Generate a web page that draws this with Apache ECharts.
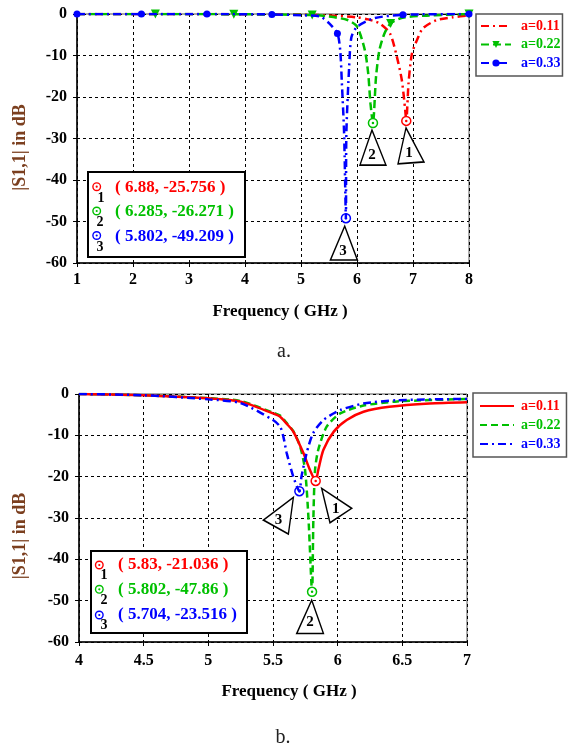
<!DOCTYPE html>
<html><head><meta charset="utf-8">
<script src="https://cdn.jsdelivr.net/npm/echarts@6/dist/echarts.min.js"></script>
<style>
html,body{margin:0;padding:0;background:#fff;}
#ca{position:absolute;left:0;top:0;width:568px;height:372px}
#cb{position:absolute;left:0;top:372px;width:568px;height:373px}
</style>
</head><body><div id="ca"></div><div id="cb"></div>
<script>
// ---------------- DATA ----------------
const seriesNames = ['a=0.11', 'a=0.22', 'a=0.33'];
const colors = ['#ff0000', '#00c000', '#0000ff'];

// Chart a
const xTicksA = [1, 2, 3, 4, 5, 6, 7, 8];
const yTicks = [-60, -50, -40, -30, -20, -10, 0];

const redA_f  = [1, 2, 3, 4, 5, 5.5, 6.0, 6.2, 6.41, 6.59, 6.71, 6.8, 6.86, 6.88, 6.92, 6.98, 7.07, 7.18, 7.42, 7.71, 8];
const redA_db = [0, 0, 0, -0.05, -0.15, -0.35, -0.8, -1.3, -2.3, -4.7, -10.2, -15.9, -23, -25.756, -16.7, -9.6, -6.3, -3.4, -1.5, -0.8, -0.3];

const greenA_f  = [1, 2.4, 3.8, 5.2, 5.5, 5.83, 6.0, 6.14, 6.2, 6.24, 6.285, 6.34, 6.4, 6.49, 6.6, 6.81, 7.2, 7.6, 8];
const greenA_db = [0, 0, -0.05, -0.25, -0.6, -1.45, -3.0, -8.7, -14.3, -21.5, -26.271, -15.1, -8.7, -4.7, -2.3, -0.9, -0.4, -0.2, 0];
const greenA_markers = [2.4, 3.8, 5.2, 6.6, 8];

const blueA_f  = [1, 2.15, 3.32, 4.48, 5.0, 5.34, 5.5, 5.65, 5.70, 5.73, 5.77, 5.802, 5.81, 5.86, 5.9, 6.0, 6.31, 6.82, 8];
const blueA_db = [0, 0, 0, -0.1, -0.3, -0.6, -2.2, -4.7, -8.7, -16.7, -28.8, -49.209, -28.8, -12.7, -5.6, -3.1, -1.0, -0.2, 0];
const blueA_markers = [1, 2.15, 3.32, 4.48, 5.65, 6.82, 8];

const dipA_f  = [6.88, 6.285, 5.802];
const dipA_db = [-25.756, -26.271, -49.209];

// Chart b
const xTicksB = [4, 4.5, 5, 5.5, 6, 6.5, 7];

const redB_f  = [4, 4.5, 5, 5.25, 5.5, 5.555, 5.6, 5.657, 5.735, 5.786, 5.83, 5.85, 5.89, 5.97, 6.07, 6.2, 6.4, 6.71, 7];
const redB_db = [0, -0.3, -1.05, -1.85, -4.7, -5.5, -7.0, -9.1, -14.3, -18.4, -21.036, -18.4, -13.5, -9.1, -6.3, -4.3, -3.1, -2.3, -2.0];

const greenB_f  = [4, 4.5, 5, 5.25, 5.5, 5.555, 5.6, 5.657, 5.71, 5.748, 5.775, 5.802, 5.812, 5.825, 5.85, 5.915, 6.02, 6.2, 6.46, 7];
const greenB_db = [0, -0.3, -1.0, -1.7, -4.5, -5.2, -6.8, -9.0, -12.7, -18.4, -30.5, -47.86, -30.5, -18.4, -13.5, -7.9, -4.7, -2.8, -1.8, -1.2];

const blueB_f  = [4, 4.5, 5, 5.25, 5.5, 5.555, 5.58, 5.606, 5.657, 5.704, 5.72, 5.76, 5.81, 5.89, 6.02, 6.2, 6.46, 7];
const blueB_db = [0, -0.3, -1.3, -2.2, -6.3, -7.9, -10.3, -14.3, -20, -23.516, -20, -14.3, -9.5, -6.3, -3.9, -2.3, -1.5, -1.2];

const dipB_f  = [5.83, 5.802, 5.704];
const dipB_db = [-21.036, -47.86, -23.516];

// ---------------- STYLE HELPERS ----------------
const FONT = 'Liberation Serif';

function pairs(fs, dbs, markers) {
  return fs.map((f, i) => {
    const item = { value: [f, dbs[i]] };
    if (markers && markers.indexOf(f) < 0) item.symbol = 'none';
    return item;
  });
}

function dipMarks(f, db, color, tri) {
  return {
    silent: true,
    animation: false,
    data: [
      { coord: [f, db], symbol: tri.path, symbolSize: tri.size, symbolOffset: tri.offset,
        itemStyle: { color: '#fff', borderColor: '#000', borderWidth: 1.5 },
        label: { show: true, position: 'inside', formatter: tri.text, color: '#000',
                 fontFamily: FONT, fontWeight: 'bold', fontSize: 15, offset: tri.labelOffset } },
      { coord: [f, db], symbol: 'circle', symbolSize: 9,
        itemStyle: { color: '#fff', borderColor: color, borderWidth: 1.5 }, label: { show: false } },
      { coord: [f, db], symbol: 'circle', symbolSize: 2.5,
        itemStyle: { color: color }, label: { show: false } }
    ]
  };
}

function axisCommon(min, max, interval, margin) {
  return {
    type: 'value', min: min, max: max, interval: interval,
    axisLine: { show: true, onZero: false, lineStyle: { color: '#000', width: 1.5 } },
    axisTick: { show: true, length: 4, lineStyle: { color: '#000', width: 1 } },
    splitLine: { show: true, lineStyle: { color: '#000', width: 1, type: [3, 3] } },
    axisLabel: { color: '#000', fontFamily: FONT, fontWeight: 'bold', fontSize: 16, margin: margin }
  };
}

function dataBox(x, y, w, h, rows, fs, dbs) {
  const els = [{
    type: 'rect', shape: { x: x, y: y, width: w, height: h },
    style: { fill: '#fff', stroke: '#000', lineWidth: 2 }, z: 50
  }];
  rows.forEach((r, i) => {
    els.push({ type: 'circle', shape: { cx: r.cx, cy: r.cy, r: 3.8 },
      style: { fill: 'none', stroke: colors[i], lineWidth: 1.4 }, z: 51 });
    els.push({ type: 'circle', shape: { cx: r.cx, cy: r.cy, r: 1.1 },
      style: { fill: colors[i] }, z: 51 });
    els.push({ type: 'text', x: r.nx, y: r.ny, style: { text: String(i + 1), fill: '#000',
      font: 'bold 14px "' + FONT + '"', align: 'center', verticalAlign: 'middle' }, z: 51 });
    els.push({ type: 'text', x: r.tx, y: r.ty, style: { text: '( ' + fs[i] + ', ' + dbs[i] + ' )',
      fill: colors[i], font: 'bold 17px "' + FONT + '"', align: 'left', verticalAlign: 'middle' }, z: 51 });
  });
  return els;
}

function legendCfg(left, top, itemWidth, itemGap, pad, textPad, hasSymbol) {
  return {
    orient: 'vertical', left: left, top: top, itemWidth: itemWidth, itemHeight: 9, itemGap: itemGap,
    padding: pad, borderColor: '#555', borderWidth: 1.5, backgroundColor: '#fff',
    data: seriesNames.map((n, i) => {
      const d = { name: n, textStyle: { color: colors[i] } };
      if (!hasSymbol[i]) d.itemStyle = { color: 'rgba(0,0,0,0)', borderWidth: 0, opacity: 0 };
      return d;
    }),
    textStyle: { fontFamily: FONT, fontWeight: 'bold', fontSize: 14, lineHeight: 14, padding: [0, 0, 0, textPad] }
  };
}

// ---------------- CHART A ----------------
const chartA = echarts.init(document.getElementById('ca'), null, { renderer: 'canvas' });
const triA = [
  { path: 'path://M8,0 L26,34 L0,36 Z', size: [26, 36], offset: [4.7, 25], text: '1', labelOffset: [-2, 7] },
  { path: 'path://M12,0 L26,35 L0,35 Z', size: [26, 35], offset: [0, 24.5], text: '2', labelOffset: [-1, 7.5] },
  { path: 'path://M14.3,0 L27,34 L0,34 Z', size: [27, 34], offset: [-2, 24.8], text: '3', labelOffset: [-1, 8] }
];
chartA.setOption({
  animation: false,
  backgroundColor: '#fff',
  grid: { left: 77, top: 14, width: 392, height: 249, show: true, borderColor: '#555', borderWidth: 1 },
  xAxis: axisCommon(xTicksA[0], xTicksA[xTicksA.length - 1], 1, 9),
  yAxis: axisCommon(yTicks[0], yTicks[yTicks.length - 1], 10, 10),
  legend: legendCfg(476, 14, 30, 4.5, [5, 2, 6, 4], 5, [false, true, true]),
  series: [
    { name: seriesNames[0], type: 'line', data: pairs(redA_f, redA_db), symbol: 'none', smooth: 0.25,
      lineStyle: { color: colors[0], width: 2.5, type: [8, 4, 2, 4] }, itemStyle: { color: colors[0] },
      markPoint: dipMarks(dipA_f[0], dipA_db[0], colors[0], triA[0]), z: 3 },
    { name: seriesNames[1], type: 'line', data: pairs(greenA_f, greenA_db, greenA_markers), symbol: 'triangle',
      symbolRotate: 180, symbolSize: 9, showSymbol: true, showAllSymbol: true, smooth: 0.25,
      lineStyle: { color: colors[1], width: 2.5, type: [8, 4] }, itemStyle: { color: colors[1] },
      markPoint: dipMarks(dipA_f[1], dipA_db[1], colors[1], triA[1]), z: 4 },
    { name: seriesNames[2], type: 'line', data: pairs(blueA_f, blueA_db, blueA_markers), symbol: 'circle',
      symbolSize: 7, showSymbol: true, showAllSymbol: true, smooth: 0.25,
      lineStyle: { color: colors[2], width: 2.5, type: [8, 4, 2, 4] }, itemStyle: { color: colors[2] },
      markPoint: dipMarks(dipA_f[2], dipA_db[2], colors[2], triA[2]), z: 5 }
  ],
  graphic: dataBox(88, 172, 157, 85, [
      { cx: 96.7, cy: 186.7, nx: 101, ny: 198, tx: 115, ty: 188 },
      { cx: 96.7, cy: 211, nx: 100, ny: 222.5, tx: 115, ty: 212 },
      { cx: 96.7, cy: 235.5, nx: 100, ny: 247.5, tx: 115, ty: 237 }
    ], dipA_f, dipA_db).concat([
    { type: 'text', x: 280, y: 312, style: { text: 'Frequency ( GHz )', fill: '#000',
      font: 'bold 17px "' + FONT + '"', align: 'center', verticalAlign: 'middle' } },
    { type: 'text', x: 20, y: 147.5, rotation: Math.PI / 2, style: { text: '|S1,1| in dB', fill: '#7b3f1f',
      font: 'bold 18px "' + FONT + '"', align: 'center', verticalAlign: 'middle' } },
    { type: 'text', x: 284, y: 352, style: { text: 'a.', fill: '#222',
      font: '20px "' + FONT + '"', align: 'center', verticalAlign: 'middle' } }
  ])
});

// ---------------- CHART B ----------------
const chartB = echarts.init(document.getElementById('cb'), null, { renderer: 'canvas' });
const triB = [
  { path: 'path://M0,0 L30,20 L8.3,34.4 Z', size: [30, 34.4], offset: [21, 24.6], text: '1', labelOffset: [-1, 4] },
  { path: 'path://M15,0 L26.7,33.3 L0,33.3 Z', size: [26.7, 33.3], offset: [-2, 25], text: '2', labelOffset: [0, 5] },
  { path: 'path://M30,0 L25,36.7 L0,22.7 Z', size: [30, 36.7], offset: [-21, 24.5], text: '3', labelOffset: [0, 4] }
];
chartB.setOption({
  animation: false,
  backgroundColor: '#fff',
  grid: { left: 79, top: 22, width: 388, height: 248, show: true, borderColor: '#555', borderWidth: 1 },
  xAxis: axisCommon(xTicksB[0], xTicksB[xTicksB.length - 1], 0.5, 10.5),
  yAxis: axisCommon(yTicks[0], yTicks[yTicks.length - 1], 10, 10),
  legend: legendCfg(473, 21, 34, 5, [6, 6, 6, 6], 2, [false, false, false]),
  series: [
    { name: seriesNames[0], type: 'line', data: pairs(redB_f, redB_db), symbol: 'none', smooth: 0.25,
      lineStyle: { color: colors[0], width: 2.5, type: 'solid' }, itemStyle: { color: colors[0] },
      markPoint: dipMarks(dipB_f[0], dipB_db[0], colors[0], triB[0]), z: 4 },
    { name: seriesNames[1], type: 'line', data: pairs(greenB_f, greenB_db), symbol: 'none', smooth: 0.25,
      lineStyle: { color: colors[1], width: 2.5, type: [7, 4] }, itemStyle: { color: colors[1] },
      markPoint: dipMarks(dipB_f[1], dipB_db[1], colors[1], triB[1]), z: 3 },
    { name: seriesNames[2], type: 'line', data: pairs(blueB_f, blueB_db), symbol: 'none', smooth: 0.25,
      lineStyle: { color: colors[2], width: 2.5, type: [8, 4, 2, 4] }, itemStyle: { color: colors[2] },
      markPoint: dipMarks(dipB_f[2], dipB_db[2], colors[2], triB[2]), z: 5 }
  ],
  graphic: dataBox(91, 179, 156, 82, [
      { cx: 99.3, cy: 193, nx: 104, ny: 203, tx: 118, ty: 193 },
      { cx: 99.3, cy: 217.3, nx: 104, ny: 228, tx: 118, ty: 218 },
      { cx: 99.3, cy: 243, nx: 104, ny: 253, tx: 118, ty: 243 }
    ], dipB_f, dipB_db).concat([
    { type: 'text', x: 289, y: 320, style: { text: 'Frequency ( GHz )', fill: '#000',
      font: 'bold 17px "' + FONT + '"', align: 'center', verticalAlign: 'middle' } },
    { type: 'text', x: 20, y: 164, rotation: Math.PI / 2, style: { text: '|S1,1| in dB', fill: '#7b3f1f',
      font: 'bold 18px "' + FONT + '"', align: 'center', verticalAlign: 'middle' } },
    { type: 'text', x: 283, y: 366, style: { text: 'b.', fill: '#222',
      font: '20px "' + FONT + '"', align: 'center', verticalAlign: 'middle' } }
  ])
});
</script>
</body></html>
